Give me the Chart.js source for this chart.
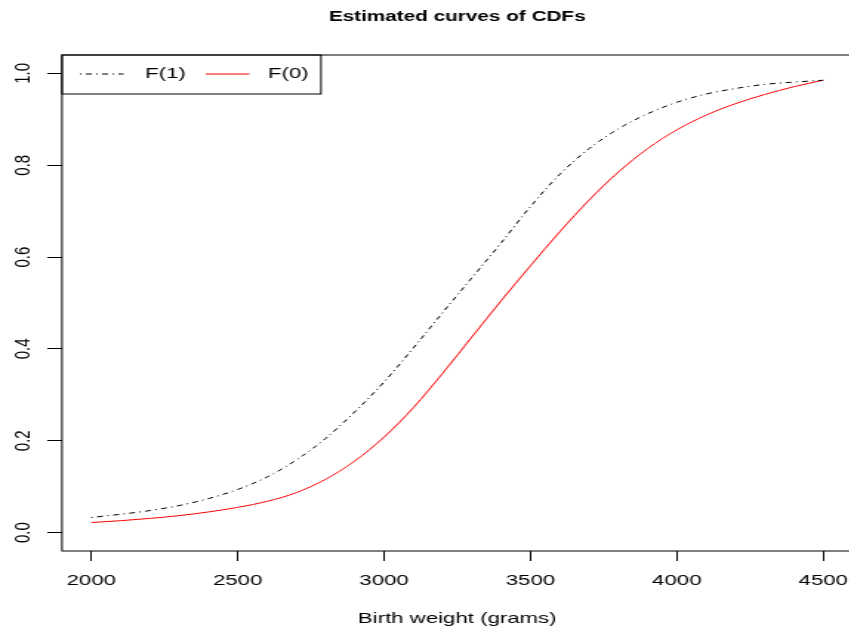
<!DOCTYPE html>
<html>
<head>
<meta charset="utf-8">
<script src="https://cdn.jsdelivr.net/npm/chart.js@4"></script>
<style>
  html, body { margin: 0; padding: 0; background: #fff; overflow: hidden; }
  /* the reference plot is horizontally stretched, so draw narrow and stretch */
  #wrap { width: 576px; height: 628px; transform: scaleX(1.48); transform-origin: 0 0; }
</style>
</head>
<body>
<div id="wrap"><canvas id="grafico" width="576" height="628"></canvas></div>
<script>
const pesos = [2000, 2100, 2200, 2300, 2400, 2500, 2600, 2700, 2800, 2900, 3000, 3100, 3200,
               3300, 3400, 3500, 3600, 3700, 3800, 3900, 4000, 4100, 4200, 4300, 4400, 4500];
const cdf1 = [0.033, 0.040, 0.048, 0.059, 0.074, 0.094, 0.121, 0.158, 0.205, 0.263, 0.328, 0.402, 0.479,
              0.555, 0.631, 0.710, 0.780, 0.836, 0.879, 0.912, 0.937, 0.955, 0.967, 0.976, 0.981, 0.985];
const cdf0 = [0.022, 0.026, 0.031, 0.037, 0.045, 0.055, 0.068, 0.087, 0.116, 0.156, 0.208, 0.272, 0.347,
              0.426, 0.505, 0.581, 0.655, 0.724, 0.785, 0.836, 0.877, 0.909, 0.934, 0.954, 0.971, 0.985];
const xTicks = [2000, 2500, 3000, 3500, 4000, 4500];
const yTicks = [0, 0.2, 0.4, 0.6, 0.8, 1.0];

const fonte = '"Liberation Sans", Arial, sans-serif';

// box around the plot, rotated y labels and legend (R style)
const estiloR = {
  id: 'estiloR',
  afterDraw(chart) {
    const ctx = chart.ctx;
    const a = chart.chartArea;
    ctx.save();
    ctx.strokeStyle = '#000';
    ctx.lineWidth = 1;
    ctx.strokeRect(a.left, a.top, a.right - a.left + 5, a.bottom - a.top);

    // y labels, parallel to the axis
    const y = chart.scales.y;
    ctx.fillStyle = '#000';
    ctx.font = '15px ' + fonte;
    ctx.textAlign = 'center';
    ctx.textBaseline = 'middle';
    yTicks.forEach(v => {
      ctx.save();
      ctx.translate(15.5, y.getPixelForValue(v));
      ctx.rotate(-Math.PI / 2);
      ctx.fillText(v.toFixed(1), 0, 0);
      ctx.restore();
    });

    // legend
    const lx = a.left, ly = a.top;
    ctx.strokeRect(lx, ly, 175, 39);
    const itens = [[54, 98], [139, 181]];
    chart.data.datasets.forEach((ds, i) => {
      const [x0, tx] = itens[i];
      ctx.beginPath();
      ctx.strokeStyle = ds.borderColor;
      ctx.setLineDash(ds.borderDash || []);
      ctx.moveTo(x0, ly + 19);
      ctx.lineTo(x0 + 29.5, ly + 19);
      ctx.stroke();
      ctx.setLineDash([]);
      ctx.textAlign = 'left';
      ctx.fillText(ds.label, tx, ly + 19);
    });
    ctx.restore();
  }
};

new Chart(document.getElementById('grafico'), {
  type: 'line',
  data: {
    datasets: [{
      label: 'F(1)',
      data: pesos.map((p, i) => ({ x: p, y: cdf1[i] })),
      borderColor: '#000000',
      borderWidth: 1,
      borderDash: [1, 3, 4, 3],
      pointRadius: 0,
      cubicInterpolationMode: 'monotone'
    }, {
      label: 'F(0)',
      data: pesos.map((p, i) => ({ x: p, y: cdf0[i] })),
      borderColor: '#ff0000',
      borderWidth: 1,
      pointRadius: 0,
      cubicInterpolationMode: 'monotone'
    }]
  },
  options: {
    responsive: false,
    animation: false,
    devicePixelRatio: 1,
    layout: { padding: 0 },
    plugins: {
      legend: { display: false },
      tooltip: { enabled: false },
      title: {
        display: true,
        text: 'Estimated curves of CDFs',
        fullSize: false,
        color: '#000',
        font: { family: fonte, size: 14, weight: 'bold', lineHeight: 1.2 },
        padding: { top: 9, bottom: 29.2 }
      }
    },
    scales: {
      x: {
        type: 'linear',
        min: 1900,
        max: 4600,
        afterBuildTicks: s => { s.ticks = xTicks.map(v => ({ value: v })); },
        afterFit: s => { s.height = 77; s.paddingLeft = 0; s.paddingRight = 0; },
        border: { display: false },
        grid: { drawOnChartArea: false, drawTicks: true, tickLength: 10, color: '#000' },
        ticks: {
          color: '#000',
          font: { family: fonte, size: 15 },
          padding: 11,
          maxRotation: 0,
          callback: v => String(v)
        },
        title: {
          display: true,
          text: 'Birth weight (grams)',
          color: '#000',
          font: { family: fonte, size: 15 },
          padding: { top: 0, bottom: 0.5 }
        }
      },
      y: {
        min: -0.04,
        max: 1.04,
        afterBuildTicks: s => { s.ticks = yTicks.map(v => ({ value: v })); },
        afterFit: s => { s.width = 62 / 1.48; },
        border: { display: false },
        grid: { drawOnChartArea: false, drawTicks: true, tickLength: 10, color: '#000' },
        ticks: { display: false }
      }
    }
  },
  plugins: [estiloR]
});
</script>
</body>
</html>
